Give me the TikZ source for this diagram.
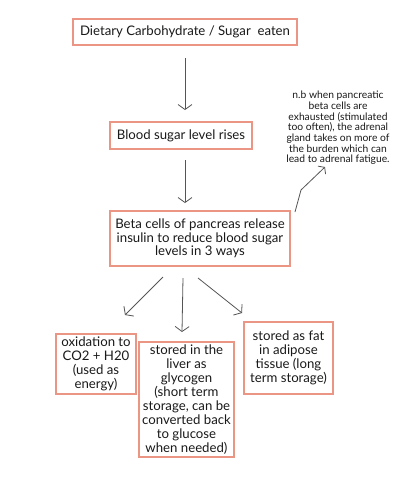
\documentclass[tikz,border=0pt]{standalone}
\usepackage{fontspec}
\setmainfont{Lato}
\usetikzlibrary{arrows.meta,calc}
\definecolor{boxc}{HTML}{EB9585}
\definecolor{arrc}{HTML}{555555}
\tikzset{
  box/.style={draw=boxc,line width=1.1pt,inner sep=0pt,align=center,text=black!90,font=\fontsize{13.2}{13.4}\selectfont},
  arr/.style={draw=arrc,line width=0.8pt,-{Straight Barb[length=5pt,width=14pt,line width=0.8pt]}},
  note/.style={align=center,text=black!90,font=\fontsize{10.3}{10.7}\selectfont,inner sep=0pt}
}
\begin{document}
\begin{tikzpicture}[x=1pt,y=-1pt]
\useasboundingbox (0,0) rectangle (400,480);
\node[box,minimum width=224pt,minimum height=26pt] (b1) at (185,32) {Dietary Carbohydrate / Sugar\ \ eaten};
\node[box,minimum width=142pt,minimum height=27pt] (b2) at (181,135.5) {Blood sugar level rises};
\node[box,minimum width=180pt,minimum height=55pt] (b3) at (200,238.5) {Beta cells of pancreas release\\insulin to reduce blood sugar\\levels in 3 ways};
\node[box,minimum width=80pt,minimum height=60pt,font=\fontsize{13.2}{14}\selectfont] (bl) at (96,364) {oxidation to\\CO2 + H20\\(used as\\energy)};
\node[box,minimum width=95pt,minimum height=115pt,font=\fontsize{13.2}{14}\selectfont] (bm) at (186.5,399.5) {stored in the\\liver as\\glycogen\\(short term\\storage, can be\\converted back\\to glucose\\when needed)};
\node[box,minimum width=89pt,minimum height=72pt,font=\fontsize{13.2}{14}\selectfont] (br) at (288.5,358) {stored as fat\\in adipose\\tissue (long\\term storage)};
\node[note] (nb) at (338,128) {n.b when pancreatic\\beta cells are\\exhausted (stimulated\\too often), the adrenal\\gland takes on more of\\the burden which can\\lead to adrenal fatigue.};
% arrows
\coordinate (a1s) at (185,58);
\coordinate (a1e) at (185,110);
\draw[arr] (a1s) -- (a1e);
\coordinate (a2s) at (185,160);
\coordinate (a2e) at (185,203);
\draw[arr] (a2s) -- (a2e);
\coordinate (lsA) at (163,277);
\coordinate (lsB) at (125,315);
\draw[arr] (lsA) -- (lsB);
\coordinate (msA) at (183,278);
\coordinate (msB) at (182,332);
\draw[arr] (msA) -- (msB);
\coordinate (rsA) at (198,278);
\coordinate (rsB) at (242,313);
\draw[arr] (rsA) -- (rsB);
\coordinate (n0) at (295,212);
\coordinate (n1) at (301,190);
\coordinate (n2) at (325,167);
\draw[draw=arrc,line width=0.8pt,-{Straight Barb[length=4pt,width=11pt,line width=0.8pt]}] (n0) -- (n1) -- (n2);
\end{tikzpicture}
\end{document}
